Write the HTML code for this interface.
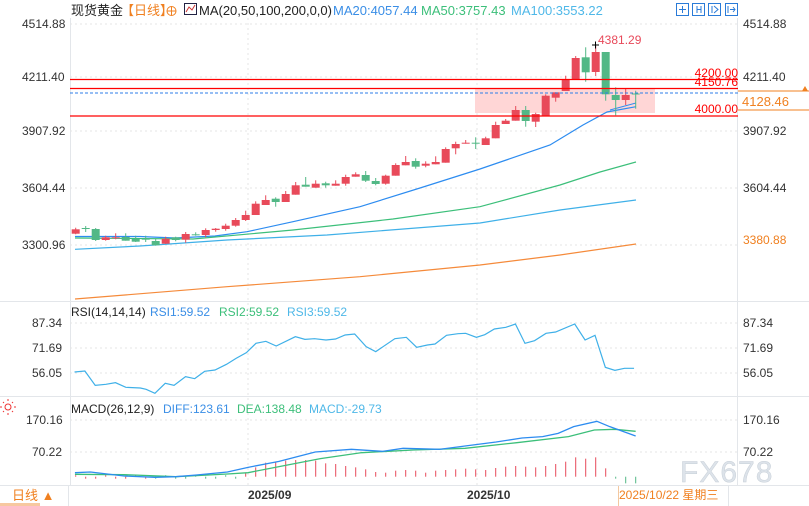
<!DOCTYPE html>
<html><head><meta charset="utf-8"><style>
body{margin:0;background:#fff;}
svg{display:block;font-family:"Liberation Sans","Noto Sans CJK SC",sans-serif;}
</style></head><body>
<svg id="s" width="809" height="506" viewBox="0 0 809 506" xmlns="http://www.w3.org/2000/svg">
<rect width="809" height="506" fill="#fff"/>
<g stroke="#e3e6ea" stroke-width="1">
<line x1="70.5" y1="18" x2="70.5" y2="485"/>
<line x1="737.5" y1="18" x2="737.5" y2="485"/>
<line x1="0" y1="301.5" x2="809" y2="301.5"/>
<line x1="0" y1="396.5" x2="809" y2="396.5"/>
<line x1="0" y1="485.5" x2="809" y2="485.5"/>
</g>
<g stroke="#e6e6e6" stroke-dasharray="2,3">
<line x1="70" y1="24" x2="737" y2="24"/><line x1="70" y1="77" x2="737" y2="77"/>
<line x1="70" y1="131" x2="737" y2="131"/><line x1="70" y1="188" x2="737" y2="188"/>
<line x1="70" y1="245" x2="737" y2="245"/>
<line x1="70" y1="323" x2="737" y2="323"/><line x1="70" y1="348" x2="737" y2="348"/><line x1="70" y1="373" x2="737" y2="373"/>
<line x1="70" y1="420" x2="737" y2="420"/><line x1="70" y1="452" x2="737" y2="452"/>
<line x1="248" y1="18" x2="248" y2="485"/><line x1="477" y1="18" x2="477" y2="485"/>
</g>
<rect x="475" y="88" width="180" height="25" fill="#ffd6d6"/>
<g id="ma" fill="none" stroke-width="1.2"></g>
<g id="c"></g>
<line x1="70" y1="79.5" x2="738" y2="79.5" stroke="#f00" stroke-width="1.3"/>
<line x1="70" y1="88.5" x2="738" y2="88.5" stroke="#f00" stroke-width="1.3"/>
<line x1="70" y1="116" x2="738" y2="116" stroke="#f00" stroke-width="1.3"/>
<line x1="70" y1="93" x2="738" y2="93" stroke="#2d7ee8" stroke-dasharray="3,2"/>
<g font-size="12" fill="#f00" text-anchor="end">
<text x="738" y="77">4200.00</text><text x="738" y="86">4150.76</text><text x="738" y="113">4000.00</text>
</g>
<text x="598" y="44" font-size="12" fill="#e8495a">4381.29</text>
<path d="M592 45h7M595.5 41.5v7" stroke="#000"/>
<g font-size="12" fill="#333">
<text x="22" y="28">4514.88</text><text x="22" y="81">4211.40</text><text x="22" y="135">3907.92</text><text x="22" y="192">3604.44</text><text x="22" y="249">3300.96</text>
<text x="743" y="28">4514.88</text><text x="743" y="81">4211.40</text><text x="743" y="135">3907.92</text><text x="743" y="192">3604.44</text>
<text x="32" y="327">87.34</text><text x="32" y="352">71.69</text><text x="32" y="377">56.05</text>
<text x="743" y="327">87.34</text><text x="743" y="352">71.69</text><text x="743" y="377">56.05</text>
<text x="26" y="424">170.16</text><text x="32" y="456">70.22</text>
<text x="743" y="424">170.16</text><text x="743" y="456">70.22</text>
</g>
<text x="743" y="244" font-size="12" fill="#f08020">3380.88</text>
<line x1="738" y1="91" x2="809" y2="91" stroke="#f08020"/><line x1="738" y1="110" x2="809" y2="110" stroke="#f08020"/>
<text x="742" y="106" font-size="13" fill="#f08020">4128.46</text>
<path d="M802 91l3-5 3 5z" fill="#f08020"/>
<g font-size="13">
<text x="71" y="15" fill="#222">现货黄金</text>
<text x="121" y="15" fill="#f08020">【日线】</text>
<circle cx="171.5" cy="11" r="4.5" fill="none" stroke="#f08020"/>
<path d="M167 11h9M171.5 6.5v9" stroke="#f08020"/>
<rect x="184.5" y="3.5" width="12" height="11" fill="#fff" stroke="#224"/>
<path d="M186 12l3-5 3 3 3-5" stroke="#c33" fill="none"/>
<text x="199" y="15" fill="#222">MA(20,50,100,200,0,0)</text>
<text x="333" y="15" fill="#3a8ee6">MA20:4057.44</text>
<text x="421" y="15" fill="#3cbf7a">MA50:3757.43</text>
<text x="511" y="15" fill="#4fb8e8">MA100:3553.22</text>
<text x="71" y="316" fill="#222" font-size="12">RSI(14,14,14)</text>
<text x="150" y="316" fill="#3a8ee6" font-size="12">RSI1:59.52</text>
<text x="219" y="316" fill="#3cbf7a" font-size="12">RSI2:59.52</text>
<text x="287" y="316" fill="#4fb8e8" font-size="12">RSI3:59.52</text>
<text x="71" y="413" fill="#222" font-size="12">MACD(26,12,9)</text>
<text x="163" y="413" fill="#3a8ee6" font-size="12">DIFF:123.61</text>
<text x="237" y="413" fill="#3cbf7a" font-size="12">DEA:138.48</text>
<text x="309" y="413" fill="#4fb8e8" font-size="12">MACD:-29.73</text>
</g>
<g fill="none" stroke="#2a7bd8">
<rect x="676.5" y="3.5" width="12" height="12"/><rect x="692.5" y="3.5" width="12" height="12"/><rect x="708.5" y="3.5" width="12" height="12"/><rect x="725.5" y="3.5" width="12" height="12"/>
<path d="M682.5 6v7M679 9.5h7M697 6v7M701 6v7M697 9.5h4M712 6v7M714 6l4 3.5-4 3.5M728 6v7M730 9.5h5M733 7l2 2.5-2 2.5"/>
</g>
<circle cx="8" cy="407" r="3" fill="none" stroke="#e33"/>
<path d="M8 401v-2M8 413v2M2 407h-2M14 407h2M4 403l-1-1M12 403l1-1M4 411l-1 1M12 411l1 1" stroke="#e33"/>
<text x="680" y="482" font-size="30" fill="#dde3ea" stroke="#c8d0d8" stroke-width="0.5" letter-spacing="1">FX678</text>
<g id="ind" fill="none"></g>
<line x1="68.5" y1="486" x2="68.5" y2="506" stroke="#e3e6ea"/>
<text x="12" y="500" font-size="13" fill="#f08020">日线 ▲</text>
<rect x="0" y="503" width="40" height="3" fill="#f7c8a0"/>
<text x="248" y="499" font-size="12" font-weight="bold" fill="#333">2025/09</text>
<text x="467" y="499" font-size="12" font-weight="bold" fill="#333">2025/10</text>
<text x="619" y="499" font-size="12" fill="#f08020">2025/10/22 星期三</text>
<line x1="618.5" y1="486" x2="618.5" y2="506" stroke="#f3c8a0"/>
<line x1="728.5" y1="486" x2="728.5" y2="506" stroke="#e3e6ea"/>
</svg>
<script>
var NS="http://www.w3.org/2000/svg";
function el(p,t,a){var e=document.createElementNS(NS,t);for(var k in a)e.setAttribute(k,a[k]);document.getElementById(p).appendChild(e);return e;}
var C=[[229.3,233.7,227.7,234.3,1],[228,228.8,226,232,0],[229,240,228,241,0],[237.3,240,235.7,240.7,1],[237.3,238,233.3,239.3,1],[237,240.7,233.3,240.7,0],[239,241.7,235.7,242,0],[238.7,239.5,235.7,242,0],[241,245.3,238.7,245.7,0],[238.7,243.7,236.7,244,1],[237.3,240,236.7,241.3,0],[234,239.7,232,242.7,1],[234.3,235,232.3,235.7,0],[230,235,228.3,237.3,1],[228.7,230,228,231.7,1],[225.7,229,223.7,230.7,1],[220,225.7,218,226.7,1],[215,220,210.7,221,1],[203.7,215,201.3,215,1],[200,205,195.3,205,1],[198.7,202,197.3,206.7,0],[194,202,191,202,1],[185.3,194.7,182,194.7,1],[184.7,186.7,177,186.7,0],[183.7,187.7,180.3,187.7,1],[183.3,185.3,181.7,187.7,0],[183.7,185.7,180.3,185.7,1],[177,183.7,174.7,185.7,1],[174.3,176.7,172.3,176.7,1],[175,180.7,171,182,0],[181,184,178,185.3,0],[175.7,183.7,174.7,184.7,1],[165,175.7,163.3,175.7,1],[162,165.3,156,165.3,1],[161,166.7,158.3,168.7,0],[163.7,165.7,161.3,167.3,1],[162,164.3,156.3,164.3,1],[149,162.7,147.3,162.7,1],[144,148.3,141.7,154.3,1],[142.7,143.7,140,143.7,1],[142.7,143.4,137.3,149,0],[138.3,145,136.7,145,1],[125,138.3,121.7,138.3,1],[120.7,124,119,124,1],[110,120.7,106,120.7,1],[110,121,106,126.7,0],[114,121.7,112.7,127,1],[95.7,116,94.3,116,1],[92.3,97.7,92.3,101.7,1],[79.3,91,75.7,91,1],[58,79.3,56,79.3,1],[57.3,72.3,47.3,81.7,0],[52,72,46,76,1],[52,94.3,52,100.7,0],[95,100,87.3,115.3,0],[95,100,88.3,105,1],[93.5,94.5,90.7,108.7,0]];
C.forEach(function(c,i){var x=75.7+10*i,col=c[4]?"#e84a5a":"#52b886";
el("c","line",{x1:x,x2:x,y1:c[2],y2:c[3],stroke:col,"stroke-width":1});
el("c","rect",{x:x-4,y:c[0],width:8,height:Math.max(1,c[1]-c[0]),fill:col});});
function pl(g,pts,col,w){el(g,"polyline",{points:pts.map(function(p){return p.join(",")}).join(" "),stroke:col,"stroke-width":w||1.2,fill:"none"});}
pl("ma",[[75,236.5],[140,236.5],[175,238],[215,236],[247,231.7],[293,221.7],[360,206.7],[420,188],[480,169],[550,145],[583,125],[607,112],[636,106.7]],"#2d8cf0");
pl("ma",[[610,110],[636,103]],"#2d8cf0",1);
pl("ma",[[75,238],[193,239],[293,230],[393,219],[480,206.7],[560,185],[600,172],[636,162]],"#3cbf7a");
pl("ma",[[75,249.3],[140,246],[227,240],[327,235],[480,223],[560,210],[636,200]],"#3fb0e8");
pl("ma",[[75,299],[227,286.7],[360,276.7],[480,265],[560,255],[636,244]],"#f58a3a");
var R=[[38,216],[65,213],[92,256],[120,253],[145,248],[172,262],[210,264],[225,268],[248,280],[275,250],[298,256],[328,230],[352,236],[378,214],[405,210],[435,193],[460,175],[487,158],[512,130],[538,124],[565,138],[615,110],[640,118],[665,116],[695,120],[720,117],[745,105],[770,102],[800,140],[825,155],[875,116],[905,112],[932,142],[960,135],[980,132],[1010,106],[1040,101],[1060,100],[1088,112],[1110,104],[1135,87],[1165,82],[1190,72],[1215,130],[1240,122],[1270,100],[1295,96],[1345,72],[1372,120],[1398,106],[1425,202],[1450,211],[1475,205],[1500,205]];
pl("ind",R.map(function(p){return [60+p[0]*0.3827,300+p[1]/3]}),"#3fb0e8",1.2);
function mx(a){return a.map(function(p){return [p[0]/1.935,380+p[1]/3]})}
var H={17:280,18:262,19:248,20:245,21:242,22:240,23:240,24:242,25:250,26:252,27:258,28:262,29:268,30:276,31:278,32:272,33:270,34:272,35:278,36:272,37:270,38:268,39:266,40:268,41:270,42:264,43:260,44:258,45:260,46:262,47:258,48:252,49:245,50:232,51:236,52:232,53:265};
for(var i=0;i<57;i++){var x=75.7+10*i;var base=476.7;
 if(H[i]){el("ind","line",{x1:x,x2:x,y1:380+H[i]/3,y2:base,stroke:"#e84a5a"});}
 else if(i>=54){var d=[296,310,310][i-54];el("ind","line",{x1:x,x2:x,y1:base,y2:380+d/3,stroke:"#52b886"});}
 else {var t=(i%3==0)?-1.5:2;el("ind","line",{x1:x,x2:x,y1:base,y2:base+t,stroke:i<8?"#e84a5a":"#52b886"});}}
pl("ind",mx([[145,283],[240,284],[340,290],[440,282],[480,278],[540,260],[620,236],[700,218],[800,210],[900,205],[1000,188],[1100,170],[1150,150],[1190,148],[1230,154]]),"#3cbf7a",1.3);
pl("ind",mx([[145,278],[175,276],[240,288],[300,292],[340,290],[380,285],[440,276],[480,262],[540,244],[610,216],[680,208],[740,214],[780,205],[850,208],[900,198],[960,186],[1010,174],[1050,170],[1080,160],[1110,140],[1155,124],[1180,140],[1230,168]]),"#2d8cf0",1.3);
</script>
</body></html>
